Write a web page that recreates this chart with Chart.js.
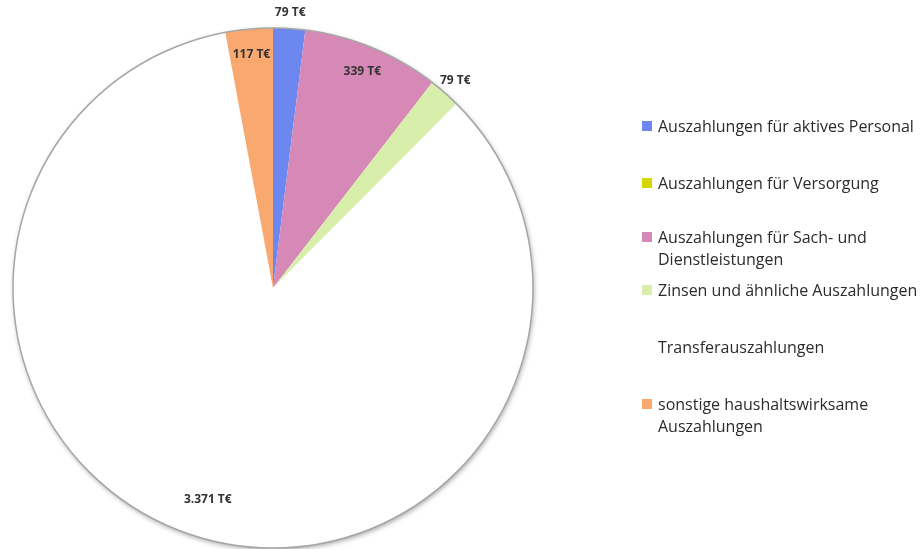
<!DOCTYPE html>
<html>
<head>
<meta charset="utf-8">
<script src="https://cdn.jsdelivr.net/npm/chart.js@4/dist/chart.umd.min.js"></script>
<style>
  html, body { margin: 0; padding: 0; background: #fff; }
  #wrap { position: relative; width: 922px; height: 549px; overflow: hidden; }
  #wrap canvas { position: absolute; left: 0; top: 0; }
  .item { position: absolute; left: 642px; font-family: "Open Sans", sans-serif; font-size: 16px; line-height: 22px; color: #2b2b2b; white-space: nowrap; }
  .item .box { position: absolute; left: 0; top: 6px; width: 10px; height: 10px; }
  .item .txt { position: absolute; left: 16px; top: 0; }
</style>
</head>
<body>
<div id="wrap">
  <canvas id="pieChart" width="922" height="549"></canvas>
  <div id="legend"></div>
</div>
<script>
const categories = [
    'Auszahlungen für aktives Personal',
    'Auszahlungen für Versorgung',
    ['Auszahlungen für Sach- und', 'Dienstleistungen'],
    'Zinsen und ähnliche Auszahlungen',
    'Transferauszahlungen',
    ['sonstige haushaltswirksame', 'Auszahlungen']
];
const values = [79, 0, 339, 79, 3371, 117];   // T€
const colors = ['#6c88f0', '#d6d600', '#d688b6', '#d8eeab', '#ffffff', '#f9a870'];
const legendY = [126, 183, 237, 290, 347, 404];

function fmt(v) {
    return String(v).replace(/\B(?=(\d{3})+(?!\d))/g, '.') + ' T€';
}

const pieFrame = {
    id: 'pieFrame',
    beforeDatasetsDraw(chart) {
        const a = chart.getDatasetMeta(0).data[0];
        const ctx = chart.ctx;
        ctx.save();
        ctx.shadowColor = 'rgba(0,0,0,0.35)';
        ctx.shadowBlur = 5;
        ctx.shadowOffsetX = 1;
        ctx.shadowOffsetY = 2;
        ctx.beginPath();
        ctx.arc(a.x, a.y, a.outerRadius, 0, Math.PI * 2);
        ctx.fillStyle = '#fff';
        ctx.fill();
        ctx.restore();
    },
    afterDatasetsDraw(chart) {
        const meta = chart.getDatasetMeta(0);
        const a = meta.data[0];
        const ctx = chart.ctx;
        const total = values.reduce((s, v) => s + v, 0);
        ctx.save();
        ctx.beginPath();
        ctx.arc(a.x, a.y, a.outerRadius, 0, Math.PI * 2);
        ctx.strokeStyle = '#a6a6a6';
        ctx.lineWidth = 1.5;
        ctx.stroke();

        ctx.font = 'bold 12px "Open Sans", sans-serif';
        ctx.fillStyle = '#333';
        ctx.textAlign = 'center';
        ctx.textBaseline = 'middle';
        meta.data.forEach((arc, i) => {
            if (!values[i]) return;
            const share = values[i] / total;
            const mid = (arc.startAngle + arc.endAngle) / 2;
            let r = arc.outerRadius * 0.9;
            if (share < 0.025) r = arc.outerRadius + 16;
            else if (share > 0.5) r = arc.outerRadius * 0.85;
            ctx.fillText(fmt(values[i]), arc.x + Math.cos(mid) * r, arc.y + Math.sin(mid) * r);
        });
        ctx.restore();
    }
};

const ctxPie = document.getElementById('pieChart').getContext('2d');
new Chart(ctxPie, {
    type: 'pie',
    data: {
        labels: categories,
        datasets: [{
            data: values,
            backgroundColor: colors,
            borderWidth: 0
        }]
    },
    options: {
        responsive: false,
        animation: false,
        layout: { padding: { left: 13, top: 28, right: 389, bottom: 1 } },
        plugins: {
            legend: { display: false },
            tooltip: { enabled: false }
        }
    },
    plugins: [pieFrame]
});

// legend as html text
const legend = document.getElementById('legend');
categories.forEach((c, i) => {
    const lines = Array.isArray(c) ? c : [c];
    const item = document.createElement('div');
    item.className = 'item';
    item.style.top = (legendY[i] - 11) + 'px';
    item.innerHTML = '<span class="box" style="background:' + colors[i] + '"></span>' +
        '<span class="txt">' + lines.join('<br>') + '</span>';
    legend.appendChild(item);
});
</script>
</body>
</html>
